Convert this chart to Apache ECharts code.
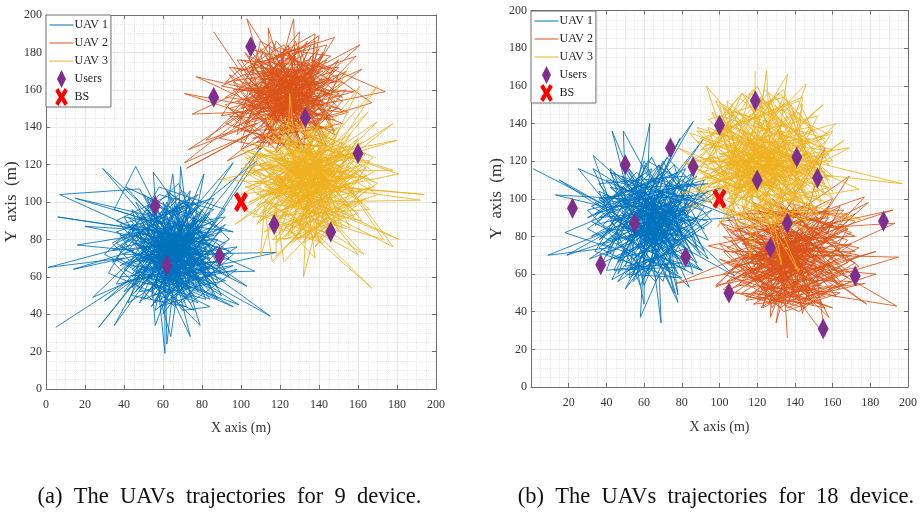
<!DOCTYPE html>
<html><head><meta charset="utf-8">
<script src="https://cdn.jsdelivr.net/npm/echarts@6/dist/echarts.min.js"></script>
<style>html,body{margin:0;background:#fff}#c{width:920px;height:512px}</style></head>
<body><div id="c"></div>
<script>
const leftUav1 = [5,33,42,58,30,47,60,70,35,34,52,66,27,33,48,60,24,49,55,80,1,65,40,70,14,64,45,74,16,77,58,84,6,92,50,85,20,87,62,78,7,104,48,107,56,92,15,102,60,88,29,118,52,90,35,96,46,119,64,82,41,108,70,94,55,116,58,72,65,115,68,86,69,119,74,78,81,115,62,66,96,121,72,92,108,122,78,76,110,129,66,72,118,73,70,62,107,63,62,84,103,55,74,70,115,39,68,66,99,45,60,60,96,44,72,58,79,34,64,50,74,28,66,62,62,24,61,70,61,19,58,50,64,28,70,72,56,34,54,62,
44,80,84,70,46,62,80,88,50,56,76,60,42,74,86,82,52,94,78,52,66,98,56,54,82,66,48,72,74,96,58,58,88,76,44,88,70,52,60,92,84,60,50,70,76,86,62,56,46,84,80,74,54,52,68,90,72,64,42,66,86,90,56,76,78,68,48,92,66,56,82,84,52,78,74,54,64,94,58,66,88,68,50,64,70,84,60,76,76,72,46,70,80,58,54,88,68,70,62,60,84,78,56,68,72,80,44,60,78,94,60,52,66,80,52,72,82,56,58,78,74,66,48,82,70,60,64,72,86,74,54,60,62,90,76,56,50,76,68,76,80,82,60,64,72,74,56,86,66,66,78,62,52,82,70,88,58,62,74,84,64,58,46,78,84,64,60,80,68,60,54,70,76,78,62,74,72,54,50,60,80,92,58,68,66,84,56,58,74,62,82,76,64,68,70,78,48,68,60,56,76,92,66,64,58,82,72,68,84,86,54,74,68,56,62,70,78,84,50,80,70,66,64,78,56,64,74,88,60,84,80,64,66,54,52,86,72,76,62,62,
38,60,72,100,90,62,44,96,60,46,92,88,40,52,78,104,34,78,66,44,96,72,50,104,84,48,36,70,70,106,94,80,42,46,62,100,88,54,46,100,76,42,32,62,58,108,92,96,54,44,86,102,38,88,74,46,98,64,48,52,64,102,90,50,36,84,80,100,44,54,56,98,96,84,40,92,70,42,84,44,30,72,68,110,88,58,42,84,72,48,52,102,94,70,36,56,60,96,82,48,46,58,78,98,40,64,66,50,92,78,50,92,86,56,38,76,74,102,56,46,98,76,44,68,80,52,62,106,90,84,34,68,54,48,84,94,48,46,70,98,94,60,42,92,76,50,58,44,88,64,36,90,64,104,82,92,44,50,72,44,52,98,90,72,40,72,68,102,86,50,46,94,78,46,56,56,92,92,38,82,62,48,80,96,50,48,96,66,42,58,74,106,60,40,88,80,34,74,66,96,84,54,48,88,76,100,54,50,92,58,40,80,58,104,86,96,44,64,70,46,82,62,52,96,64,52,90,86,38,66,78,90,46,52,68,100,56,42,94,74,42,88,74,50,60,100,88,48,36,78,72,96,
62,68,74,82,52,76,70,58,80,72,56,88,66,64,76,90,50,68,72,76,60,82,82,70,64,58,56,72,78,80,60,66,70,90,54,80,74,60,62,76,84,80,52,60,68,82,78,66,58,90,72,70,50,84,64,62,80,86,56,62,70,74,62,88,76,64,54,68,82,78,66,86,60,58,74,76,52,88,78,72,64,80,70,56,56,78,72,86,80,68,58,74,66,68,76,82,62,72,54,84,70,64,78,88,60,62,74,68,66,90,52,70,80,76,64,60,56,82,72,78,68,62,84,72,60,86,76,58,64,76,70,84,54,64,66,74];
const leftUav2 = [86,191,106,160,77,167,112,150,71,158,100,148,75,147,118,168,82,133,108,142,73,128,114,156,71,121,104,136,72,118,122,146,93,122,110,130,89,134,126,160,103,198,116,152,114,193,120,172,127,198,128,156,130,191,112,168,140,189,134,150,138,190,118,178,148,188,124,148,161,184,132,168,159,178,126,142,162,171,138,160,158,159,112,146,174,159,136,176,167,153,120,138,155,148,130,158,
100,150,142,170,104,172,136,140,110,182,116,136,122,182,148,154,102,142,126,172,144,144,108,164,134,180,118,142,146,166,106,150,128,150,140,162,114,176,124,136,142,152,102,164,132,146,110,156,138,174,120,150,146,146,112,172,128,168,104,146,136,156,118,164,142,178,110,140,130,172,122,158,100,160,144,158,116,146,134,164,108,176,126,150,140,146,114,166,120,176,106,156,138,152,124,164,132,140,104,166,142,164,116,158,128,178,112,138,136,168,122,152,108,170,146,158,118,148,130,164,102,154,134,176,114,144,126,156,140,170,110,160,124,172,136,146,120,160,106,144,132,154,116,170,142,148,128,144,104,158,138,164,122,168,112,152,134,158,118,156,126,162,108,148,130,150,140,156,114,160,120,154,124,146,136,162,110,166,128,158,116,150,132,170,122,144,118,160,126,152,
96,140,130,182,148,136,94,168,124,128,150,176,100,132,118,186,152,148,92,156,136,184,110,128,146,172,98,176,128,130,154,160,90,146,114,184,144,134,102,180,134,126,150,168,94,150,120,130,140,182,98,136,110,186,148,164,96,160,126,126,152,154,104,178,116,132,144,176,92,142,132,128,138,186,100,170,122,184,146,140,106,134,150,150,90,162,128,182,118,126,154,170,102,138,136,130,112,180,148,144,96,148,124,180,142,130,108,132,152,164,94,172,130,128,120,182,146,178,98,144,134,186,114,130,150,158,100,176,126,132,140,136,104,182,148,170,92,152,118,128,136,178,110,134,152,142,96,164,122,130,144,184,106,174,130,134,116,178,146,150,100,128,128,186,140,142,94,146,112,132,150,172,102,168,134,134,124,184,148,138,98,154,120,136,142,180,108,128,138,172,92,164,116,186,144,130,104,152,126,178,152,156,96,172,132,130,110,174,140,140,100,138,122,178,
118,150,132,162,110,158,126,168,138,152,114,144,124,160,136,170,108,152,128,146,120,166,134,154,112,162,130,142,122,172,140,160,116,154,126,146,134,166,106,160,120,148,138,158,114,170,128,156,124,140,132,152,110,148,136,164,118,168,126,158,142,154,112,156,130,166,122,148,116,162,134,144,108,158,128,170,138,148,120,156,124,168,114,150,136,160,110,164,132,158,118,144,126,154,140,164,112,166,122,162,130,150,116,148,134,172,106,154,128,160,120,152,138,166,124,150,114,158,132,148,118,170,126,164,136,154,110,150,128,152];
const leftUav3 = [155,172,130,120,161,162,136,108,170,162,128,112,165,148,142,118,178,142,132,104,170,143,146,126,180,133,124,116,178,117,138,130,181,115,148,108,194,104,130,110,192,101,140,100,181,80,126,104,178,76,150,116,173,80,134,92,163,72,142,96,160,72,128,90,167,54,138,84,132,60,134,100,138,70,122,88,130,80,144,92,122,68,118,96,118,71,136,90,116,68,112,98,110,71,120,104,97,88,124,110,89,112,116,118,103,128,124,122,125,158,128,124,111,148,134,128,
108,110,152,106,112,128,156,118,116,92,148,134,104,118,150,96,118,134,160,112,122,96,146,138,110,102,154,124,126,84,136,140,114,114,158,104,130,132,144,86,108,126,152,112,120,128,148,94,128,100,162,120,116,104,142,134,124,92,156,110,134,124,106,116,146,102,138,136,114,96,150,122,126,128,140,88,118,110,154,130,132,96,144,112,110,120,148,118,128,106,136,118,122,130,152,100,112,108,142,126,130,88,146,120,120,112,158,114,134,108,124,126,140,104,116,124,150,108,128,118,138,94,118,102,144,130,126,98,154,116,132,114,114,118,142,110,136,126,122,104,148,114,130,100,140,120,124,112,134,116,146,106,120,120,138,112,128,110,136,104,142,116,130,122,126,116,136,120,132,110,
104,100,160,128,112,84,166,108,136,80,102,124,158,92,122,144,164,118,110,94,150,140,100,112,156,86,128,142,168,124,116,80,144,82,106,132,162,100,132,78,152,132,100,104,164,114,120,84,140,142,108,88,160,134,126,78,170,110,112,136,148,88,102,116,158,126,134,82,154,100,118,140,166,96,106,92,146,144,124,82,162,106,100,128,150,84,130,146,168,116,114,88,142,78,104,108,156,136,122,80,160,94,110,130,166,122,138,76,152,92,102,120,148,142,118,86,164,102,128,80,144,136,108,98,158,122,126,86,170,104,116,138,136,84,100,96,154,128,120,142,162,90,112,100,146,82,132,144,166,112,106,126,140,80,124,132,156,98,102,108,164,126,130,84,150,138,110,90,160,116,118,78,148,128,104,124,152,86,134,138,168,108,114,94,142,84,122,136,158,106,108,104,162,132,128,90,146,96,100,118,156,130,138,82,144,124,116,86,
130,106,146,122,120,118,138,98,150,112,126,126,142,104,116,110,134,130,152,118,122,100,140,122,128,114,148,100,118,122,136,110,144,128,124,104,132,118,154,108,120,112,138,126,146,96,114,108,130,124,142,114,126,96,150,120,118,102,136,128,144,106,122,124,134,102,148,116,128,120,140,94,116,116,132,106,152,126,124,114,138,104,146,118,120,106,130,128,142,100,126,118,136,94,150,110,114,120,134,122,144,108,122,98,140,116,128,104,148,124,118,114,132,100,138,114,124,130,146,110,136,108,120,100,130,116,142,122,126,108];
const rightUav1 = [1,116,40,96,15,110,48,88,25,116,52,104,33,116,44,92,33,123,58,100,43,136,50,108,49,136,62,112,63,140,54,96,86,141,66,106,79,132,60,92,91,131,72,104,108,90,78,88,101,106,68,96,108,59,74,78,78,49,70,84,84,53,66,70,91,62,62,80,76,50,72,66,78,45,64,74,69,34,68,60,58,37,60,72,60,44,56,64,50,52,62,68,43,57,52,76,31,68,48,80,19,70,44,84,9,70,42,74,18,82,46,94,13,102,50,100,
36,90,82,94,40,78,76,100,42,106,80,76,44,68,84,86,48,112,74,72,52,62,86,102,38,98,70,112,56,60,82,80,40,84,66,110,48,70,78,108,60,58,88,90,38,76,72,64,44,102,64,116,50,64,84,74,54,106,76,94,42,88,68,64,58,108,80,98,46,76,62,60,74,110,52,84,86,80,56,74,70,102,40,92,78,68,60,104,66,76,48,96,76,84,54,68,82,90,44,78,68,92,58,84,72,76,50,92,64,66,78,96,42,96,60,96,74,86,52,72,84,96,56,90,68,80,46,86,76,74,62,92,70,88,54,82,80,84,58,94,64,84,50,78,72,94,60,78,66,100,48,84,74,98,56,82,78,78,44,90,68,72,62,100,58,76,70,98,52,92,76,88,64,94,60,86,72,82,54,100,66,88,62,84,68,94,
32,80,88,112,46,60,70,120,94,78,36,104,58,54,84,108,30,94,66,56,92,96,42,114,76,58,34,72,64,122,90,70,48,118,82,62,38,86,72,116,96,88,52,58,60,118,88,66,34,98,78,114,46,66,94,104,40,70,68,118,86,60,32,88,56,114,92,84,44,108,74,60,36,108,82,112,54,56,96,94,38,66,62,120,90,104,50,60,80,58,30,84,70,114,94,68,42,116,60,54,86,114,36,78,76,118,88,74,48,106,66,58,92,110,34,92,58,112,84,64,44,62,72,122,96,98,40,110,78,60,52,116,90,62,32,96,64,110,82,104,46,56,94,88,38,102,70,56,88,118,56,64,36,74,74,108,92,72,44,114,62,62,84,100,34,86,68,118,90,94,50,110,80,66,40,62,58,106,94,108,36,100,76,64,48,104,86,70,60,120,42,72,92,100,70,110,54,60,82,116,30,90,66,104,
62,82,74,96,54,90,70,74,80,88,56,102,66,78,76,104,50,84,72,92,60,96,82,84,64,74,56,88,78,94,60,80,70,104,54,94,74,76,62,92,84,94,52,76,68,96,78,80,58,104,72,86,50,98,64,78,80,100,56,78,70,90,62,102,76,78,54,84,82,92,66,100,60,74,74,92,52,102,78,86,64,96,70,72,56,94,72,100,80,82,58,90,66,82,76,96,62,86,54,98,70,80,78,102,60,76,74,84,66,104,52,86,80,90,64,76,56,96,72,94,68,78,84,86,60,100,76,74,64,90,70,98,54,80,66,88];
const rightUav2 = [136,26,134,60,130,34,142,76,127,37,128,66,123,42,148,56,144,39,136,82,158,37,124,70,156,27,150,70,195,69,138,52,194,43,130,80,178,44,152,62,183,72,126,56,193,87,146,84,192,94,132,74,179,98,154,76,177,101,128,84,169,112,140,68,156,127,134,92,98,53,124,64,77,55,118,72,98,54,142,62,94,75,120,80,101,87,116,66,183,60,146,48,177,55,134,50,160,42,122,56,
108,72,160,86,112,58,156,64,116,90,164,74,120,48,152,90,110,80,166,62,128,46,148,50,104,66,158,78,114,54,168,84,126,94,162,56,118,78,144,96,106,82,154,54,122,52,170,70,112,68,150,82,136,44,158,92,116,60,146,66,110,88,162,68,130,48,138,94,120,62,164,80,124,76,152,58,114,84,140,54,128,88,156,72,118,56,148,74,108,64,134,70,160,60,126,68,144,88,112,76,150,66,132,56,142,82,122,84,154,68,116,74,138,62,128,78,146,60,120,70,158,70,130,90,136,58,148,78,124,60,140,72,114,70,152,74,134,84,126,62,144,68,118,82,136,66,130,70,142,70,132,62,138,76,128,72,146,72,134,64,
106,52,168,92,110,92,172,66,132,42,100,76,166,54,124,98,170,82,114,48,150,44,102,60,164,96,140,46,108,86,174,74,118,44,156,48,104,74,160,100,128,42,106,94,168,58,136,98,172,88,112,50,146,42,100,68,162,48,122,96,170,60,142,40,108,58,166,86,116,94,154,44,104,84,174,70,130,44,102,52,158,96,120,46,168,66,146,98,110,54,164,50,134,40,106,78,172,80,126,98,150,48,100,88,166,94,114,46,160,54,138,44,108,68,170,76,122,42,152,96,104,56,168,84,144,44,112,96,162,62,128,100,174,64,118,50,156,42,102,80,166,70,132,98,148,46,106,62,172,92,124,46,158,90,110,84,164,52,140,96,116,58,170,56,136,42,104,90,154,52,120,94,168,78,142,48,108,50,160,86,126,44,146,94,114,92,166,60,130,46,102,72,172,72,118,98,150,56,
130,62,146,78,120,74,138,54,150,68,126,82,142,60,116,66,134,86,152,74,122,56,140,78,128,70,148,56,118,78,136,66,144,84,124,60,132,74,154,64,120,68,138,82,146,52,114,64,130,80,142,70,126,52,150,76,118,58,136,84,144,62,122,80,134,58,148,72,128,76,140,50,116,72,132,62,152,82,124,70,138,60,146,74,120,62,130,84,142,56,126,74,136,50,150,66,114,76,134,78,144,64,122,54,140,72,128,60,148,80,118,70,132,56,138,70,124,86,146,66,136,64,120,56,130,72,142,78,126,64];
const rightUav3 = [119,168,118,120,125,168,128,104,136,166,112,126,146,161,130,116,93,160,110,108,155,150,134,132,162,140,120,100,166,131,140,112,169,127,106,118,197,108,132,124,174,105,116,96,175,89,136,100,105,148,124,126,88,138,114,112,78,127,126,98,81,119,110,124,82,94,122,110,142,61,124,92,133,65,126,104,116,69,118,116,99,85,128,120,84,135,112,104,82,119,130,108,80,103,106,112,
96,120,148,116,100,138,152,104,104,100,146,128,110,146,150,96,92,112,140,136,116,150,144,92,98,128,154,122,122,152,136,88,100,106,146,108,128,146,112,92,94,122,156,114,108,138,142,124,130,90,104,128,148,132,118,94,152,110,124,142,106,96,136,144,98,114,144,100,114,132,130,148,108,102,150,120,122,132,140,96,102,124,134,136,116,104,146,116,126,94,110,116,138,128,120,140,148,112,106,126,132,100,142,108,112,136,124,116,96,108,136,120,118,128,144,104,128,134,104,110,140,118,114,100,130,126,122,106,146,124,108,120,134,112,120,110,138,102,126,128,112,118,142,114,124,122,130,114,116,122,136,106,128,112,118,112,134,118,122,118,126,116,
90,132,142,152,158,118,98,152,128,84,160,136,88,104,112,156,152,92,94,142,134,154,104,90,158,106,90,122,126,156,148,86,100,144,160,126,116,84,92,100,138,150,154,98,96,134,118,158,146,88,88,116,132,156,156,130,102,94,124,86,152,144,92,128,110,154,160,112,94,106,140,146,108,84,158,124,86,110,120,160,150,94,98,136,136,148,156,102,104,152,114,86,148,138,90,126,130,154,160,100,96,146,122,88,154,116,88,130,144,154,138,84,100,96,116,156,158,134,92,118,106,142,150,90,126,150,156,108,94,138,110,88,142,146,160,120,86,120,134,158,152,100,102,148,120,92,146,84,90,104,128,152,158,110,98,140,112,156,154,126,88,136,140,86,104,92,124,158,150,136,92,110,136,152,160,104,100,150,118,84,148,96,94,124,108,146,156,132,90,114,130,90,144,150,96,100,122,154,152,118,102,134,138,86,158,98,
115,110,132,126,105,122,124,102,136,116,110,130,128,108,102,114,120,134,138,122,108,104,126,128,114,118,134,104,104,126,122,114,130,132,110,108,118,124,140,112,106,116,124,130,132,100,100,112,116,128,128,118,112,100,136,124,104,106,122,132,130,110,108,128,120,106,134,120,114,124,126,98,102,120,118,110,138,130,110,118,124,108,132,122,106,110,116,132,128,104,112,122,122,98,136,114,100,124,120,126,130,112,108,102,126,120,114,108,134,128,104,118,118,104,124,118,110,134,132,114,122,112,106,104,116,120,128,126,112,112];
const leftUserX = [56,62,89,86,105,133,160,117,146], leftUserY = [98,66,71,156,183,145,126,88,84];
const rightUserX = [22,37,50,55,74,82,86,100,105,119,120,127,136,141,152,155,172,187], rightUserY = [95,65,118,87,127,69,117,139,50,152,110,74,87,122,111,31,59,88];
const bsX = [100], bsY = [100];
const caption = ['(a)  The  UAVs  trajectories  for  9  device.','(b)  The  UAVs  trajectories  for  18  device.'];
const blue='#0072BD', orange='#D95319', yellow='#EDB120', purple='#7E2F8E';
const diamond='path://M5 0L10 10L5 20L0 10Z';
const cross='path://M3.5 0L7 6L10.5 0L14 3L10 10L14 17L10.5 20L7 14L3.5 20L0 17L4 10L0 3Z';
const pairs=a=>{const r=[];for(let i=0;i<a.length;i+=2)r.push([a[i],a[i+1]]);return r;};
const zip=(a,b)=>a.map((v,i)=>[v,b[i]]);
const font='"Liberation Serif"';
const grids=[{left:46,top:15,width:390,height:374},{left:531,top:10.5,width:379,height:376.5}];
const xAxes=[],yAxes=[],series=[];
function box(i,hideZero,xGap){
 const base={min:0,max:200,interval:20,type:'value',gridIndex:i,
  axisLine:{onZero:false,lineStyle:{color:'#6e6e6e',width:1}},
  axisTick:{inside:true,length:4,lineStyle:{color:'#6e6e6e',width:1}}};
 const grid={splitLine:{show:true,lineStyle:{color:'#e6e6e6',width:1.2}},minorTick:{show:false,splitNumber:4},minorSplitLine:{show:true,lineStyle:{color:'#e8e8e8',type:'dotted',width:1}}};
 const lab=(z,m)=>({show:true,color:'#333',fontFamily:font,fontSize:12,margin:m,formatter:v=>(z&&v===0)?'':String(v)});
 xAxes.push({...base,...grid,position:'bottom',axisLabel:lab(hideZero,10),name:'X axis (m)',nameLocation:'middle',nameGap:xGap,nameTextStyle:{fontFamily:font,fontSize:14,color:'#333'}});
 xAxes.push({...base,position:'top',axisLabel:{show:false},splitLine:{show:false}});
 yAxes.push({...base,...grid,position:'left',axisLabel:lab(false,4),name:'Y  axis  (m)',nameLocation:'middle',nameGap:22,nameTextStyle:{fontFamily:font,fontSize:17,color:'#333'}});
 yAxes.push({...base,position:'right',axisLabel:{show:false},splitLine:{show:false}});
}
function panel(i,u1,u2,u3,ux,uy){
 const ax=i*2;
 const line=(name,c,d)=>({name,type:'line',xAxisIndex:ax,yAxisIndex:ax,data:pairs(d),symbol:'none',silent:true,animation:false,itemStyle:{color:c},lineStyle:{color:c,width:0.9,opacity:0.95}});
 series.push(line('UAV 1',blue,u1),line('UAV 2',orange,u2),line('UAV 3',yellow,u3));
 series.push({name:'Users',type:'scatter',xAxisIndex:ax,yAxisIndex:ax,data:zip(ux,uy),symbol:diamond,symbolSize:[11,21],itemStyle:{color:purple,opacity:1},z:5,animation:false});
 series.push({name:'BS',type:'scatter',xAxisIndex:ax,yAxisIndex:ax,data:zip(bsX,bsY),symbol:cross,symbolSize:[14,20],itemStyle:{color:'#FF0000',opacity:1},z:6,animation:false});
}
box(0,false,32);box(1,true,33);
panel(0,leftUav1,leftUav2,leftUav3,leftUserX,leftUserY);
panel(1,rightUav1,rightUav2,rightUav3,rightUserX,rightUserY);
const lineItem=n=>({name:n,itemStyle:{opacity:0},lineStyle:{width:1,opacity:1}});
const leg=(l,t)=>({left:l,top:t,orient:'vertical',align:'left',padding:[1,3,1,3],itemGap:0,itemWidth:24,itemHeight:18,backgroundColor:'#fff',borderColor:'#6e6e6e',borderWidth:1,borderRadius:0,selectedMode:false,textStyle:{fontFamily:font,fontSize:12,lineHeight:18,color:'#222',padding:[0,0,0,-4]},data:[lineItem('UAV 1'),lineItem('UAV 2'),lineItem('UAV 3'),{name:'Users'},{name:'BS'}]});
const chart=echarts.init(document.getElementById('c'),null,{renderer:'canvas'});
const capStyle={fontFamily:font,fontSize:22.5,fontWeight:'normal',color:'#111'};
chart.setOption({animation:false,backgroundColor:'#fff',grid:grids,xAxis:xAxes,yAxis:yAxes,series,
 legend:[leg(46,15),leg(531,11)],
 title:[{text:caption[0],left:229.5,top:486,textAlign:'center',padding:0,textStyle:capStyle},
        {text:caption[1],left:716,top:486,textAlign:'center',padding:0,textStyle:capStyle}]});
</script></body></html>
